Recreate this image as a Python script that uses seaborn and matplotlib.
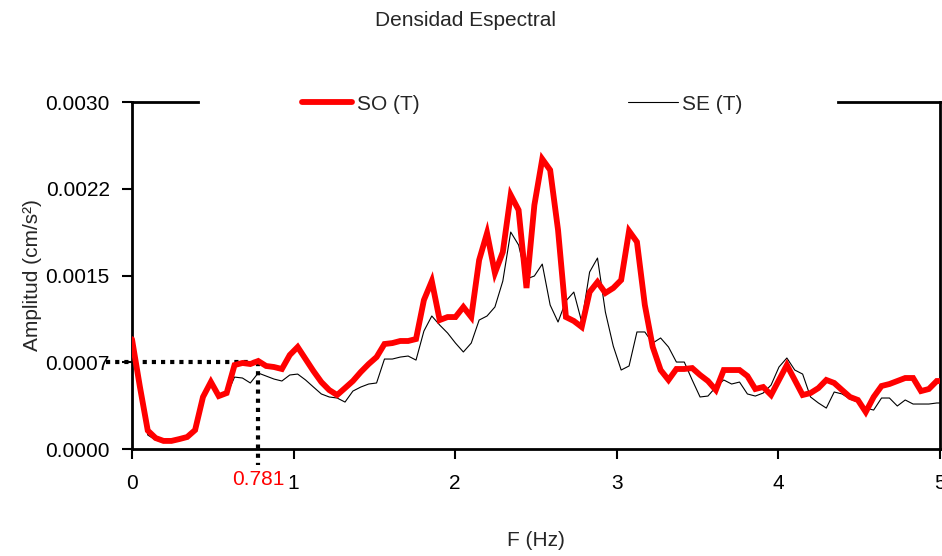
import numpy as np
import pandas as pd
import matplotlib
matplotlib.use("Agg")
import matplotlib.pyplot as plt
import seaborn as sns

# ---- data -------------------------------------------------------------
df_hz = 0.048828125  # frequency step of the spectrum (Hz)

so_t = [0.00095, 0.00054, 0.00016, 0.000095, 0.00007, 0.00007, 0.000086, 0.000104,
        0.000164, 0.00045, 0.00058, 0.000458, 0.000484, 0.000726, 0.000744, 0.000735,
        0.000761, 0.000718, 0.000709, 0.000692, 0.000813, 0.000882, 0.000778, 0.000674,
        0.000579, 0.00051, 0.000467, 0.000527, 0.000588, 0.000666, 0.000735, 0.000795,
        0.000908, 0.000916, 0.000934, 0.000934, 0.000951, 0.001288, 0.001452, 0.001115,
        0.001141, 0.001141, 0.001228, 0.001141, 0.001634, 0.001867, 0.001522, 0.001703,
        0.002196, 0.002066, 0.001392, 0.002109, 0.002507, 0.002412, 0.001893, 0.001141,
        0.001107, 0.001055, 0.001357, 0.001444, 0.001349, 0.001392, 0.001461, 0.001885,
        0.00179, 0.001245, 0.000882, 0.000683, 0.000597, 0.000692, 0.000692, 0.0007,
        0.00064, 0.000588, 0.00051, 0.000683, 0.000683, 0.000683, 0.000631, 0.000519,
        0.000536, 0.000467, 0.000597, 0.000726, 0.000597, 0.000467, 0.000484, 0.000527,
        0.000597, 0.000571, 0.00051, 0.00045, 0.000424, 0.00032, 0.00045, 0.000545,
        0.000562, 0.000588, 0.000614, 0.000614, 0.000501, 0.000519, 0.000588, 0.000588]

se_t = [0.000925, 0.00051, 0.000121, 0.000078, 0.000061, 0.000061, 0.000095, 0.000104,
        0.000182, 0.00045, 0.000579, 0.00045, 0.000467, 0.000622, 0.000614, 0.000571,
        0.000657, 0.000631, 0.000605, 0.000588, 0.00064, 0.000648, 0.000597, 0.000536,
        0.000476, 0.00045, 0.000441, 0.000406, 0.000501, 0.000536, 0.000562, 0.000571,
        0.000778, 0.000778, 0.000795, 0.000804, 0.000769, 0.00102, 0.00115, 0.001072,
        0.001003, 0.000916, 0.000839, 0.000916, 0.001115, 0.00115, 0.001228, 0.001452,
        0.001876, 0.001764, 0.00147, 0.001496, 0.001599, 0.001245, 0.001098, 0.00128,
        0.001357, 0.001098, 0.00153, 0.001651, 0.001184, 0.00089, 0.000683, 0.000718,
        0.001012, 0.001012, 0.000916, 0.00096, 0.000882, 0.000752, 0.000752, 0.000597,
        0.00045, 0.000458, 0.000536, 0.000597, 0.000562, 0.000579, 0.000476, 0.000458,
        0.000484, 0.000553, 0.000709, 0.000787, 0.000683, 0.000648, 0.00045, 0.000398,
        0.000354, 0.000493, 0.000476, 0.000432, 0.000406, 0.000354, 0.000337, 0.000441,
        0.000441, 0.000372, 0.000424, 0.000389, 0.000389, 0.000389, 0.000398, 0.000398]

freq = np.arange(len(so_t)) * df_hz

x_ticks = [0, 1, 2, 3, 4, 5]
y_ticks = [0.0, 0.00075, 0.0015, 0.00225, 0.0030]
y_tick_labels = ["0.0000", "0.0007", "0.0015", "0.0022", "0.0030"]
marker_freq = 0.781
marker_amp = 0.00075

# ---- style ------------------------------------------------------------
sns.set_style("ticks")
plt.rcParams["font.family"] = ["Liberation Sans Narrow", "Liberation Sans", "DejaVu Sans"]
FS = 15

fig = plt.figure(figsize=(9.42, 5.56), dpi=100)
ax = fig.add_axes([0.1401, 0.1924, 0.8577, 0.6241])

df = pd.DataFrame({"F": freq, "SO (T)": so_t, "SE (T)": se_t})

sns.lineplot(data=df, x="F", y="SE (T)", ax=ax, color="black", linewidth=0.8,
             label="SE (T)", zorder=3)
sns.lineplot(data=df, x="F", y="SO (T)", ax=ax, color="#ff0000", linewidth=4.2,
             label="SO (T)", zorder=4, solid_joinstyle="miter")

ax.set_xlim(0, 5)
ax.set_ylim(0, 0.0030)
ax.set_xticks(x_ticks)
ax.set_xticklabels([str(t) for t in x_ticks])
ax.set_yticks(y_ticks)
ax.set_yticklabels(y_tick_labels)
ax.tick_params(axis="both", direction="out", length=7, width=1.5, labelsize=FS,
               colors="black")
ax.tick_params(axis="x", pad=11)
ax.tick_params(axis="y", pad=9)

for s in ["left", "bottom", "right"]:
    ax.spines[s].set_visible(True)
    ax.spines[s].set_linewidth(2)
    ax.spines[s].set_color("black")
ax.spines["top"].set_visible(False)
# top frame, interrupted by the legend
for x0, x1 in [(0.0, 0.0817), (0.8738, 1.0)]:
    ax.plot([x0, x1], [1, 1], transform=ax.transAxes, color="black", lw=2,
            clip_on=False, solid_capstyle="projecting", zorder=5)

# dotted marker lines
dot = dict(color="black", lw=3, linestyle=(0, (1, 1.2)), dash_capstyle="butt",
           clip_on=False, zorder=2)
ax.plot([-0.16, marker_freq], [marker_amp, marker_amp], **dot)
ax.plot([marker_freq, marker_freq], [marker_amp, -0.000138], **dot)
ax.text(marker_freq, -0.089, "0.781", color="#ff0000", fontsize=FS,
        ha="center", va="center", transform=ax.get_xaxis_transform())

# labels
ax.set_xlabel("F (Hz)", fontsize=FS)
ax.xaxis.set_label_coords(0.5, -0.235)
ax.set_ylabel("Amplitud (cm/s²)", fontsize=FS)
ax.yaxis.set_label_coords(-0.111, 0.5)
fig.text(0.494, 0.964, "Densidad Espectral", ha="center", va="center", fontsize=FS)

# legend
h, l = ax.get_legend_handles_labels()
order = [l.index("SO (T)"), l.index("SE (T)")]
leg = ax.legend([h[i] for i in order], [l[i] for i in order], ncol=2,
                loc="center", bbox_to_anchor=(0.483, 0.994), frameon=False,
                fontsize=FS, handlelength=2.4, handletextpad=0.2,
                columnspacing=10.0)
for line in leg.get_lines():
    pass

fig.savefig("out.png", dpi=100)
